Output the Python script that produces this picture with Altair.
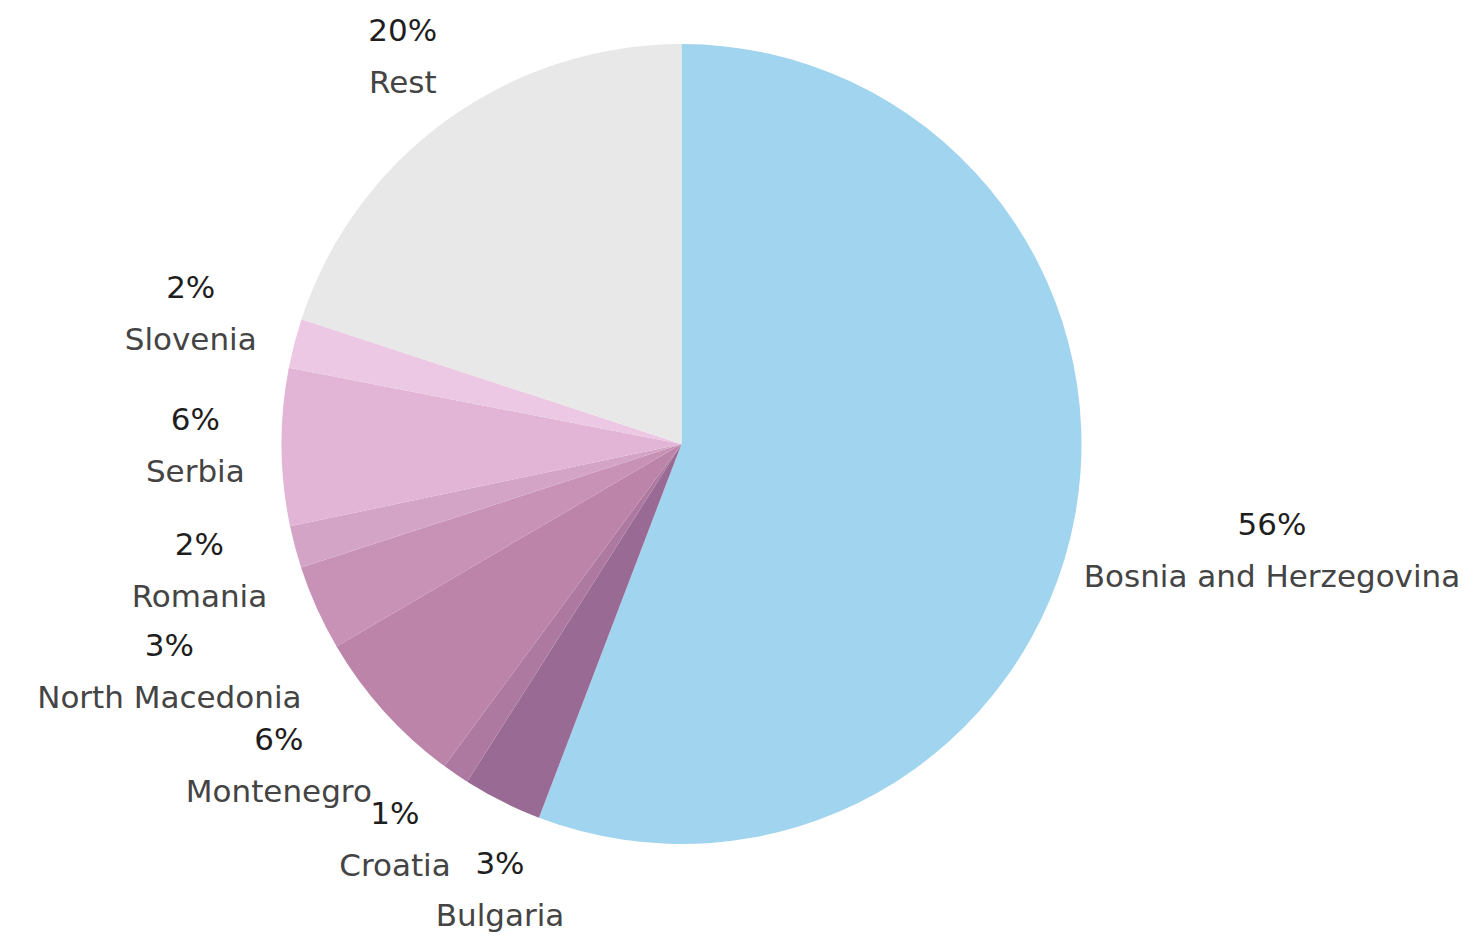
import math
import altair as alt
import pandas as pd

# ---- data ----
countries = ["Bosnia and Herzegovina", "Bulgaria", "Croatia", "Montenegro",
             "North Macedonia", "Romania", "Serbia", "Slovenia", "Rest"]
shares = [55.8, 3.2, 1.1, 6.45, 3.45, 1.7, 6.35, 2.0, 19.95]
palette = ["#a1d4ee", "#986a94", "#ae79a0", "#bb84a8", "#c792b5",
           "#d4a4c6", "#e2b5d6", "#ecc8e4", "#e8e8e8"]

# ---- layout constants ----
W, H = 1461, 924
CX, CY = 673.5, 436
R = 400
FONT = "DejaVu Sans"
FS = 31
CHAR_W = 17.0
GAP_LEFT, GAP_RIGHT = 35, 12
HALF_H = 25
BLOCK_H = 80          # height of a two-line label block
OVERLAP_W = 0.8       # fraction of the text width used for collision tests

df = pd.DataFrame({"country": countries, "share": shares})
df["idx"] = range(len(df))
df["pct"] = [f"{round(s):.0f}%" for s in shares]
total = df["share"].sum()
mids = list(df["share"].cumsum() - df["share"] / 2)
angs = [2 * math.pi * m / total for m in mids]
widths = [len(n) * CHAR_W for n in countries]


def label_radius(i, a):
    gap = GAP_LEFT if math.sin(a) < 0 else GAP_RIGHT
    return R + gap + 0.5 * widths[i] * abs(math.sin(a)) + HALF_H * abs(math.cos(a))


def centre(i, a):
    r = label_radius(i, a)
    return r * math.sin(a), -r * math.cos(a)


# simple collision avoidance: spread neighbouring labels apart along the circle
step = math.radians(0.2)
for _ in range(800):
    moved = False
    for i in range(len(angs) - 1):
        j = i + 1
        xi, yi = centre(i, angs[i])
        xj, yj = centre(j, angs[j])
        if (abs(xi - xj) < OVERLAP_W * (widths[i] + widths[j]) / 2
                and abs(yi - yj) < BLOCK_H):
            angs[i] -= step
            angs[j] += step
            moved = True
    if not moved:
        break

df["lab_theta"] = [a * total / (2 * math.pi) for a in angs]
df["label_r"] = [label_radius(i, a) for i, a in enumerate(angs)]

pie = alt.Chart(df).mark_arc(outerRadius=R).encode(
    theta=alt.Theta("share:Q", stack=True),
    order=alt.Order("idx:Q"),
    x=alt.value(CX),
    y=alt.value(CY),
    color=alt.Color("country:N", scale=alt.Scale(domain=countries, range=palette),
                    legend=None),
)

lab = alt.Chart(df).encode(
    theta=alt.Theta("lab_theta:Q", stack=None, scale=alt.Scale(domain=[0, total])),
    radius=alt.Radius("label_r:Q", scale=None),
    x=alt.value(CX),
    y=alt.value(CY),
)

pct = lab.mark_text(dy=-27, font=FONT, fontSize=FS, color="#1e1e1e",
                    align="center", baseline="middle").encode(text="pct:N")

names = lab.mark_text(dy=25, font=FONT, fontSize=FS, color="#444444",
                      align="center", baseline="middle").encode(text="country:N")

chart = alt.layer(pie, pct, names).resolve_scale(theta="independent").properties(
    width=W, height=H, padding=0,
    autosize=alt.AutoSizeParams(type="none"),
).configure_view(stroke=None)

chart.save("out.html", embed_options={"renderer": "svg", "actions": False})
